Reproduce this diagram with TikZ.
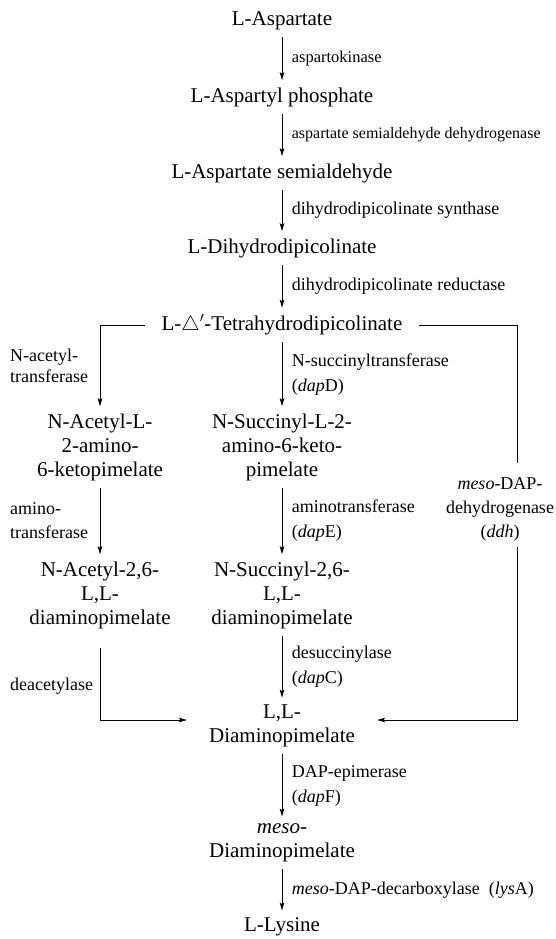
\documentclass[tikz,border=0pt]{standalone}
\usepackage{xcolor}
\usepackage{fontspec}
\setmainfont{Liberation Serif}
\usetikzlibrary{shapes,arrows,arrows.meta,positioning,calc}

\begin{document}
\begin{tikzpicture}[x=1pt, y=-1pt,
    metab/.style={align=center, on grid, inner xsep=4pt, inner ysep=7pt, font=\fontsize{21}{24}\selectfont},
    enz/.style={align=left, font=\fontsize{18}{25}\selectfont},
    rel/.style={->, >={Stealth[length=8pt, width=4.5pt, inset=1.5pt]}, line width=1pt}]

    \useasboundingbox (0,0) rectangle (555,939);

    % Nodes
    \node[metab] (asp) at (282,21) {L-Aspartate};
    \node[metab, below=76pt of asp] (asph) {L-Aspartyl\ phosphate};
    \node[metab, below=76pt of asph] (asa) {L-Aspartate\ semialdehyde};
    \node[metab, below=75pt of asa] (dhdp) {L-Dihydrodipicolinate};
    \node[metab, below=77pt of dhdp, inner xsep=16pt] (thdp) {L-$\triangle'$-Tetrahydrodipicolinate};
    \node[metab, below=122pt of thdp] (sket) {N-Succinyl-L-2-\\amino-6-keto-\\pimelate};
    \node[metab, left=182pt of sket] (aket) {N-Acetyl-L-\\2-amino-\\6-ketopimelate};
    \node[metab, below=148pt of sket] (sdap) {N-Succinyl-2,6-\\L,L-\\diaminopimelate};
    \node[metab, left=182pt of sdap] (adap) {N-Acetyl-2,6-\\L,L-\\diaminopimelate};
    \node[metab, below=131pt of sdap, inner xsep=22pt] (lldap) {L,L-\\Diaminopimelate};
    \node[metab, below=117pt of lldap] (mdap) {\textit{meso}-\\Diaminopimelate};
    \node[metab, below=84pt of mdap] (lys) {L-Lysine};
    \node[enz, align=center, font=\fontsize{18}{24}\selectfont] (ddh) at (500,509) {\textit{meso}-DAP-\\dehydrogenase\\(\textit{ddh})};
    \coordinate (ddhtop) at (517,463);
    \coordinate (ddhbot) at (517,547);

    % Relationships
    \draw[rel] (asp) -- node[enz, right=6pt, font=\fontsize{16.5}{20}\selectfont] {aspartokinase} (asph);
    \draw[rel] (asph) -- node[enz, right=6pt, font=\fontsize{16}{20}\selectfont] {aspartate\ semialdehyde\ dehydrogenase} (asa);
    \draw[rel] (asa) -- node[enz, right=6pt] {dihydrodipicolinate\ synthase} (dhdp);
    \draw[rel] (dhdp) -- node[enz, right=6pt] {dihydrodipicolinate\ reductase} (thdp);
    \draw[rel] (thdp) -- node[enz, right=6pt] {N-succinyltransferase\\(\textit{dap}D)} (sket);
    \draw[rel] (thdp.west) -| node[enz, pos=0.75, left=8pt, font=\fontsize{18}{21}\selectfont] {N-acetyl-\\transferase} (aket);
    \draw[rel] (aket) -- node[enz, left=8pt, font=\fontsize{18}{24}\selectfont] {amino-\\transferase} (adap);
    \draw[rel] (sket) -- node[enz, right=6pt] {aminotransferase\\(\textit{dap}E)} (sdap);
    \draw[rel] (sdap) -- node[enz, right=6pt] {desuccinylase\\(\textit{dap}C)} (lldap);
    \draw[rel, shorten <=12pt] (adap) |- node[enz, pos=0.3, left=3pt] {deacetylase} ([yshift=6pt]lldap.west);
    \draw[line width=1pt] (thdp.east) -| (ddhtop);
    \draw[rel] (ddhbot) |- ([yshift=6pt]lldap.east);
    \draw[rel] (lldap) -- node[enz, right=6pt] {DAP-epimerase\\(\textit{dap}F)} (mdap);
    \draw[rel] (mdap) -- node[enz, right=6pt] {\textit{meso}-DAP-decarboxylase\ \ (\textit{lys}A)} (lys);

\end{tikzpicture}
\end{document}
